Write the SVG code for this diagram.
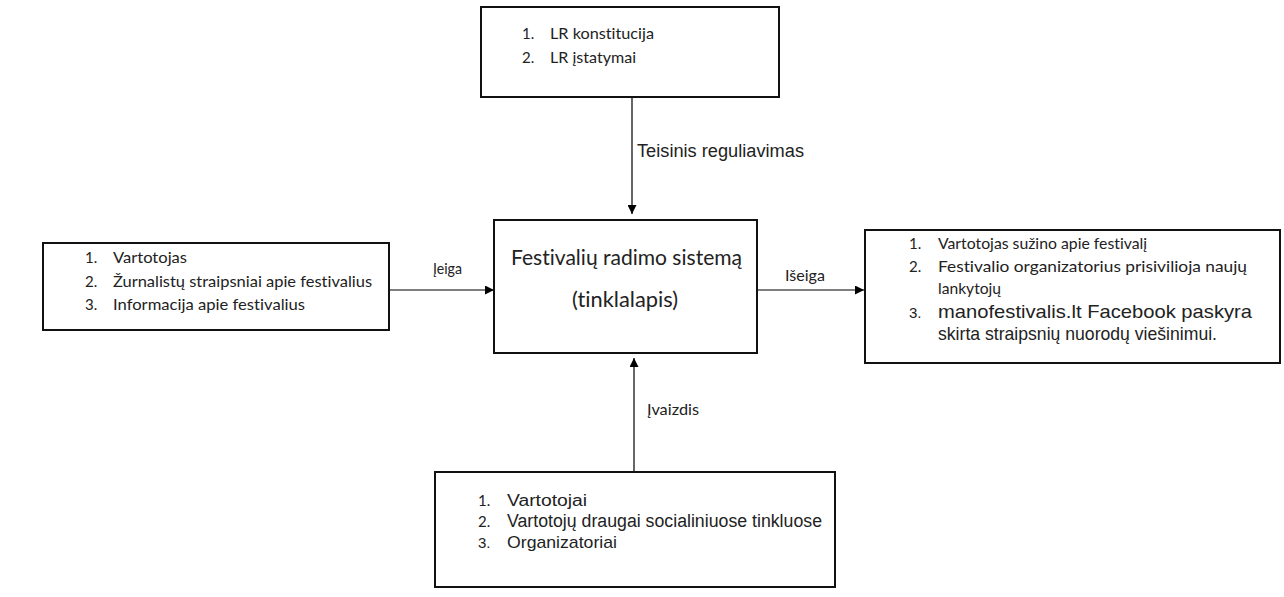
<svg xmlns="http://www.w3.org/2000/svg" width="1284" height="597" viewBox="0 0 1284 597">
<defs>
<marker id="ah" viewBox="0 0 10 10" refX="10" refY="5" markerWidth="9" markerHeight="9" markerUnits="userSpaceOnUse" orient="auto">
<path d="M0,0 L10,5 L0,10 z" fill="#000"/>
</marker>
<style>
.box{fill:#fff;stroke:#111;stroke-width:2}
.c{font-family:Lato,"Open Sans","Liberation Sans",sans-serif;fill:#222;font-variant-ligatures:none}
.a{font-family:"Liberation Sans",Arial,sans-serif;fill:#222}
.s15{font-size:15px}
.con{stroke:#000;stroke-width:1.2;fill:none;marker-end:url(#ah)}
</style>
</defs>
<rect width="1284" height="597" fill="#fff"/>
<g id="connectors">
<line class="con" x1="632" y1="97" x2="632" y2="214"/>
<line class="con" x1="389" y1="290" x2="494" y2="290"/>
<line class="con" x1="757" y1="290" x2="864" y2="290"/>
<line class="con" x1="634" y1="472" x2="634" y2="358"/>
<text class="a" x="637" y="157" font-size="18" textLength="167" lengthAdjust="spacingAndGlyphs">Teisinis reguliavimas</text>
<text class="c s15" x="433" y="274" textLength="29" lengthAdjust="spacingAndGlyphs">Įeiga</text>
<text class="c s15" x="785" y="281" textLength="40" lengthAdjust="spacingAndGlyphs">Išeiga</text>
<text class="c s15" x="647" y="415" textLength="52" lengthAdjust="spacingAndGlyphs">Įvaizdis</text>
</g>
<g id="top">
<rect class="box" x="481" y="7" width="298" height="90"/>
<text class="c s15" x="522" y="39">1.</text>
<text class="c s15" x="550" y="39" textLength="104" lengthAdjust="spacingAndGlyphs">LR konstitucija</text>
<text class="c s15" x="522" y="63">2.</text>
<text class="c s15" x="550" y="63" textLength="86" lengthAdjust="spacingAndGlyphs">LR įstatymai</text>
</g>
<g id="center">
<rect class="box" x="494" y="220" width="263" height="133"/>
<text class="c" x="511" y="265" font-size="21" textLength="231" lengthAdjust="spacingAndGlyphs">Festivalių radimo sistemą</text>
<text class="c" x="572" y="307" font-size="21" textLength="106" lengthAdjust="spacingAndGlyphs">(tinklalapis)</text>
</g>
<g id="left">
<rect class="box" x="43" y="243" width="346" height="87"/>
<text class="c s15" x="85" y="263">1.</text>
<text class="c s15" x="113" y="263" textLength="74" lengthAdjust="spacingAndGlyphs">Vartotojas</text>
<text class="c s15" x="85" y="287">2.</text>
<text class="c s15" x="113" y="287" textLength="259" lengthAdjust="spacingAndGlyphs">Žurnalistų straipsniai apie festivalius</text>
<text class="c s15" x="85" y="310">3.</text>
<text class="c s15" x="113" y="310" textLength="192" lengthAdjust="spacingAndGlyphs">Informacija apie festivalius</text>
</g>
<g id="right">
<rect class="box" x="865" y="230" width="415" height="133"/>
<text class="c s15" x="909" y="249">1.</text>
<text class="c s15" x="938" y="249" textLength="209" lengthAdjust="spacingAndGlyphs">Vartotojas sužino apie festivalį</text>
<text class="c s15" x="909" y="272">2.</text>
<text class="c s15" x="938" y="272" textLength="309" lengthAdjust="spacingAndGlyphs">Festivalio organizatorius prisivilioja naujų</text>
<text class="c s15" x="938" y="294" textLength="63" lengthAdjust="spacingAndGlyphs">lankytojų</text>
<text class="a" x="909" y="318" font-size="15">3.</text>
<text class="a" x="938" y="318" font-size="19" textLength="314" lengthAdjust="spacingAndGlyphs">manofestivalis.lt Facebook paskyra</text>
<text class="a" x="938" y="340" font-size="19" textLength="279" lengthAdjust="spacingAndGlyphs">skirta straipsnių nuorodų viešinimui.</text>
</g>
<g id="bottom">
<rect class="box" x="435" y="472" width="400" height="115"/>
<text class="c s15" x="478" y="506">1.</text>
<text class="a" x="507" y="506" font-size="16" textLength="80" lengthAdjust="spacingAndGlyphs">Vartotojai</text>
<text class="c s15" x="478" y="527">2.</text>
<text class="a" x="507" y="527" font-size="18" textLength="315" lengthAdjust="spacingAndGlyphs">Vartotojų draugai socialiniuose tinkluose</text>
<text class="a" x="478" y="548" font-size="15">3.</text>
<text class="a" x="507" y="548" font-size="17" textLength="110" lengthAdjust="spacingAndGlyphs">Organizatoriai</text>
</g>
</svg>
